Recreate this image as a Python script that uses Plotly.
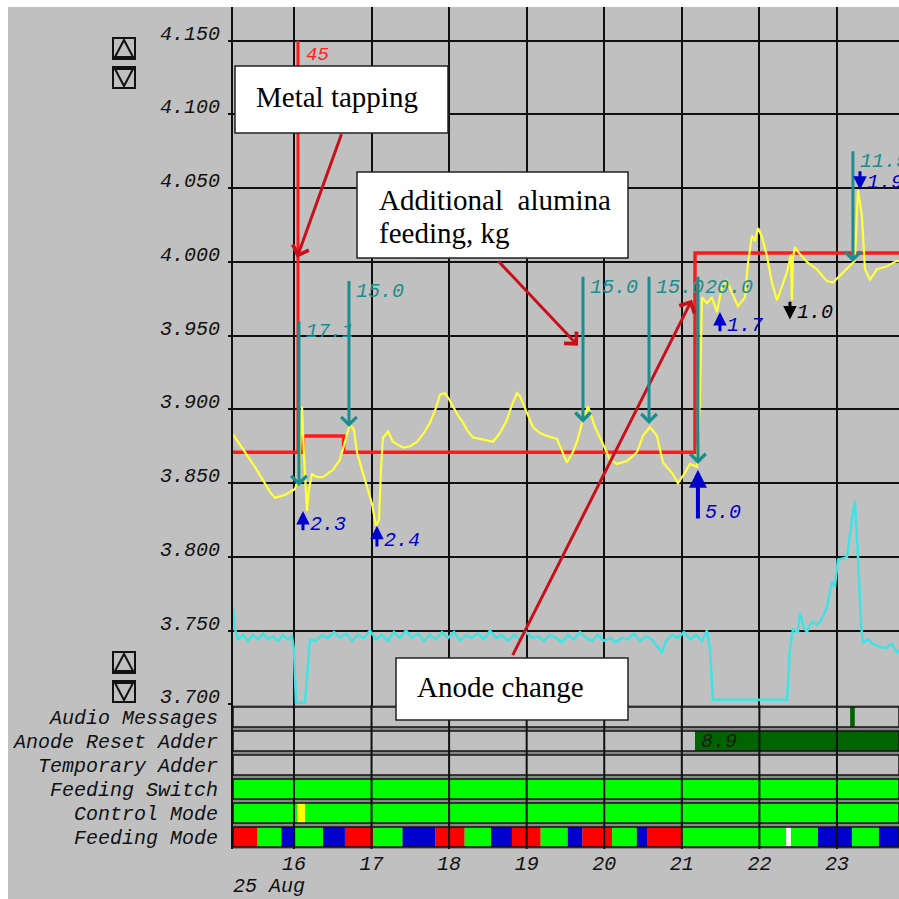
import plotly.graph_objects as go

# ---------------- data ----------------
# hours of 25 Aug
hour_ticks = [16, 17, 18, 19, 20, 21, 22, 23]
hour_range = [15.214, 23.80]
volt_range = [3.6995, 4.1729]

# cell voltage (yellow)
volt_time = [15.214, 15.368, 15.497, 15.600, 15.691, 15.755, 15.820, 15.884, 15.948, 16.013,
             16.064, 16.090, 16.103, 16.129, 16.155, 16.168, 16.193, 16.232, 16.297, 16.374,
             16.503, 16.593, 16.657, 16.722, 16.773, 16.812, 16.877, 16.941, 17.006, 17.057,
             17.096, 17.122, 17.147, 17.186, 17.212, 17.276, 17.405, 17.495, 17.586, 17.676,
             17.753, 17.831, 17.882, 17.947, 17.998, 18.050, 18.114, 18.179, 18.243, 18.308,
             18.462, 18.565, 18.656, 18.746, 18.810, 18.875, 18.913, 19.004, 19.081, 19.171,
             19.262, 19.390, 19.468, 19.519, 19.597, 19.661, 19.713, 19.790, 19.842, 19.880,
             19.971, 20.074, 20.164, 20.293, 20.422, 20.499, 20.589, 20.680, 20.757, 20.873,
             20.950, 21.041, 21.105, 21.195, 21.234, 21.260, 21.324, 21.389, 21.453, 21.518,
             21.582, 21.646, 21.724, 21.814, 21.853, 21.904, 21.943, 21.982, 22.033, 22.098,
             22.162, 22.227, 22.291, 22.356, 22.407, 22.420, 22.433, 22.459, 22.497, 22.613,
             22.742, 22.871, 22.949, 23.039, 23.168, 23.232, 23.271, 23.322, 23.361, 23.426,
             23.516, 23.645, 23.774, 23.799]
volt_value = [3.883, 3.871, 3.861, 3.852, 3.844, 3.840, 3.841, 3.842, 3.844, 3.846,
              3.854, 3.880, 3.902, 3.869, 3.839, 3.831, 3.846, 3.856, 3.854, 3.854,
              3.859, 3.866, 3.878, 3.890, 3.886, 3.871, 3.859, 3.848, 3.836, 3.821,
              3.825, 3.859, 3.881, 3.883, 3.885, 3.878, 3.874, 3.875, 3.878, 3.884,
              3.891, 3.901, 3.910, 3.911, 3.907, 3.902, 3.896, 3.891, 3.885, 3.881,
              3.879, 3.878, 3.884, 3.893, 3.903, 3.911, 3.909, 3.898, 3.888, 3.884,
              3.882, 3.880, 3.871, 3.864, 3.871, 3.880, 3.891, 3.902, 3.894, 3.888,
              3.878, 3.866, 3.863, 3.865, 3.871, 3.882, 3.888, 3.882, 3.864, 3.857,
              3.850, 3.857, 3.863, 3.861, 3.907, 3.976, 3.972, 3.976, 3.966, 3.983,
              3.987, 3.979, 3.970, 3.976, 3.999, 4.018, 4.014, 4.023, 4.017, 4.004,
              3.986, 3.974, 3.983, 3.993, 4.005, 3.974, 4.003, 4.010, 4.007, 4.000,
              3.995, 3.987, 3.986, 3.991, 3.998, 4.001, 4.049, 4.031, 3.995, 3.988,
              3.995, 3.997, 4.001, 4.000]

# noise signal (cyan)
noise_time = [15.214, 15.239, 15.278, 15.343, 15.407, 15.471, 15.536, 15.600, 15.665, 15.729,
              15.794, 15.858, 15.923, 15.974, 16.000, 16.026, 16.142, 16.180, 16.206, 16.284,
              16.361, 16.438, 16.516, 16.593, 16.670, 16.748, 16.825, 16.902, 16.980, 17.057,
              17.134, 17.212, 17.289, 17.367, 17.444, 17.521, 17.599, 17.676, 17.753, 17.831,
              17.908, 17.985, 18.063, 18.140, 18.217, 18.295, 18.372, 18.449, 18.527, 18.604,
              18.681, 18.759, 18.836, 18.913, 18.991, 19.068, 19.146, 19.223, 19.300, 19.378,
              19.455, 19.532, 19.610, 19.687, 19.764, 19.842, 19.919, 19.996, 20.074, 20.151,
              20.228, 20.306, 20.383, 20.460, 20.538, 20.615, 20.692, 20.744, 20.796, 20.873,
              20.950, 21.028, 21.105, 21.182, 21.260, 21.324, 21.363, 21.402, 22.356, 22.394,
              22.433, 22.497, 22.523, 22.574, 22.613, 22.652, 22.691, 22.742, 22.781, 22.833,
              22.871, 22.936, 22.974, 23.013, 23.090, 23.129, 23.193, 23.232, 23.271, 23.310,
              23.335, 23.400, 23.464, 23.555, 23.632, 23.709, 23.774, 23.799]
noise_value = [3.766, 3.751, 3.744, 3.747, 3.743, 3.747, 3.744, 3.748, 3.744, 3.746,
               3.743, 3.747, 3.744, 3.746, 3.737, 3.701, 3.701, 3.730, 3.744, 3.743,
               3.747, 3.745, 3.749, 3.745, 3.748, 3.743, 3.747, 3.745, 3.750, 3.744,
               3.747, 3.743, 3.749, 3.745, 3.750, 3.745, 3.748, 3.743, 3.747, 3.744,
               3.749, 3.745, 3.749, 3.743, 3.747, 3.745, 3.748, 3.744, 3.750, 3.745,
               3.747, 3.743, 3.747, 3.744, 3.749, 3.745, 3.746, 3.743, 3.747, 3.745,
               3.742, 3.747, 3.744, 3.749, 3.745, 3.743, 3.747, 3.743, 3.745, 3.742,
               3.745, 3.744, 3.748, 3.743, 3.746, 3.744, 3.739, 3.735, 3.743, 3.747,
               3.745, 3.749, 3.744, 3.747, 3.743, 3.750, 3.737, 3.703, 3.703, 3.737,
               3.751, 3.749, 3.762, 3.752, 3.749, 3.754, 3.756, 3.754, 3.756, 3.761,
               3.766, 3.783, 3.780, 3.798, 3.799, 3.800, 3.825, 3.838, 3.800, 3.754,
               3.742, 3.744, 3.741, 3.739, 3.738, 3.741, 3.735, 3.737]

# voltage set point (red step)
setpoint_time = [15.214, 16.116, 16.640, 21.170, 23.80]
setpoint_value = [3.871, 3.882, 3.871, 4.006, 4.006]

# metal tapping
tap_time = 16.052
tap_low, tap_high = 3.871, 4.150
tap_amount = 45

# additional alumina feeding, kg
feed_time = [16.064, 16.709, 19.726, 20.577, 21.208, 23.206]
feed_start = [3.961, 3.988, 3.991, 3.991, 3.991, 4.076]
feed_end = [3.848, 3.888, 3.891, 3.890, 3.863, 4.000]
feed_kg = [17.1, 15.0, 15.0, 15.0, 20.0, 11.5]

# voltage corrections
corr_time = [16.116, 17.070, 21.492, 21.208, 23.297, 22.394]
corr_start = [3.817, 3.806, 3.952, 3.825, 4.0625, 3.974]
corr_end = [3.831, 3.821, 3.966, 3.859, 4.049, 3.961]
corr_amount = [2.3, 2.4, 1.7, 5.0, 1.9, 1.0]
corr_kind = ["up", "up", "up", "up", "down", "manual"]

# status strips (top to bottom)
strip_rows = ["Audio Messages", "Anode Reset Adder", "Temporary Adder",
              "Feeding Switch", "Control Mode", "Feeding Mode"]
feeding_mode_start = [15.214, 15.530, 15.838, 16.020, 16.374, 16.657, 17.020, 17.400,
                      17.820, 18.200, 18.540, 18.810, 19.180, 19.530, 19.720, 20.100,
                      20.420, 20.560, 21.000, 22.343, 22.407, 22.755, 23.193, 23.541]
feeding_mode_state = ["R", "G", "B", "G", "B", "R", "G", "B",
                      "R", "G", "B", "R", "G", "B", "R", "G",
                      "B", "R", "G", "W", "G", "B", "G", "B"]
control_mode_start = [15.214, 16.039, 16.142]
control_mode_state = ["G", "Y", "G"]
feeding_switch_start = [15.214]
feeding_switch_state = ["G"]
anode_reset_start = [21.170]
anode_reset_state = ["D"]
anode_reset_value = 8.9
audio_start = [23.170]
audio_end = [23.230]
audio_state = ["D"]

# ---------------- styling ----------------
W, H = 899, 899
ML, MR, MT, MB = 233, 0, 7, 50
GRAY = "#c0c0c0"
GRID = "#101010"
TEAL = "#1a8e8e"
BLUE = "#0000cc"
DARKRED = "#c8101a"
STATE_COLOR = {"R": "#ff0000", "G": "#00ff00", "B": "#0000cc", "W": "#ffffff",
               "Y": "#ffff00", "D": "#006400"}
MONO = dict(family="Liberation Mono", size=20, style="italic", color="#111111")
SERIF = dict(family="Liberation Serif", size=29, color="#000000")


def fx(p):
    return (p - ML) / (W - ML - MR)


def fy(p):
    return (H - MB - p) / (H - MT - MB)


span = hour_range[1] - hour_range[0]
px_per_hour = (W - ML - MR) / span
strip_split = fy(705)
n_rows = len(strip_rows)
row_pos = {name: n_rows - 1 - i for i, name in enumerate(strip_rows)}

fig = go.Figure()

# ---- status strips ----
seg_row, seg_base, seg_len, seg_col = [], [], [], []


def add_segments(row, starts, states, ends=None):
    for i, s in enumerate(starts):
        if ends is not None:
            e = ends[i]
        elif i + 1 < len(starts):
            e = starts[i + 1]
        else:
            e = hour_range[1]
        seg_row.append(row_pos[row])
        seg_base.append(s)
        seg_len.append(e - s)
        seg_col.append(STATE_COLOR[states[i]])


add_segments("Feeding Mode", feeding_mode_start, feeding_mode_state)
add_segments("Control Mode", control_mode_start, control_mode_state)
add_segments("Feeding Switch", feeding_switch_start, feeding_switch_state)
add_segments("Anode Reset Adder", anode_reset_start, anode_reset_state)
add_segments("Audio Messages", audio_start, audio_state, audio_end)

rows_y = [row_pos[r] for r in strip_rows]
strip_common = dict(orientation="h", xaxis="x", yaxis="y2", hoverinfo="skip", showlegend=False)
# darker band between the rows
fig.add_trace(go.Bar(y=rows_y, x=[span] * n_rows, base=[hour_range[0]] * n_rows, width=1.0,
                     marker=dict(color="#888888", line_width=0), **strip_common))
# row backgrounds
fig.add_trace(go.Bar(y=rows_y, x=[span] * n_rows, base=[hour_range[0]] * n_rows, width=0.84,
                     marker=dict(color=GRAY, line_width=0), **strip_common))
# state segments
fig.add_trace(go.Bar(y=seg_row, x=seg_len, base=seg_base, width=0.84,
                     marker=dict(color=seg_col, line_width=0), **strip_common))
# row frames
fig.add_trace(go.Bar(y=rows_y, x=[span] * n_rows, base=[hour_range[0]] * n_rows, width=0.84,
                     marker=dict(color="rgba(0,0,0,0)", line=dict(color=GRID, width=1.5)),
                     **strip_common))
# hour grid running through the strips, as 2 px slivers over every row
grid_w = 2.0 / px_per_hour
gy, gb = [], []
for r in rows_y:
    for t in hour_ticks:
        gy.append(r)
        gb.append(t - grid_w / 2)
fig.add_trace(go.Bar(y=gy, x=[grid_w] * len(gy), base=gb, width=1.0,
                     marker=dict(color=GRID, line_width=0), **strip_common))

# ---- main signals ----
fig.add_trace(go.Scatter(x=noise_time, y=noise_value, mode="lines",
                         line=dict(color="#3fe3e3", width=2.5), showlegend=False))
fig.add_trace(go.Scatter(x=setpoint_time, y=setpoint_value, mode="lines",
                         line=dict(color="#ff1a1a", width=3.5, shape="hv"), showlegend=False))
fig.add_trace(go.Scatter(x=[tap_time, tap_time], y=[tap_low, tap_high], mode="lines",
                         line=dict(color="#ff1a1a", width=3), showlegend=False))
fig.add_trace(go.Scatter(x=volt_time, y=volt_value, mode="lines",
                         line=dict(color="#ffff3a", width=2.2), showlegend=False))

annotations = []
shapes = []

# outer page frame (white border top/left)
shapes.append(dict(type="rect", xref="paper", yref="paper", x0=fx(8), x1=fx(W),
                   y0=fy(H), y1=1.0, fillcolor=GRAY, line_width=0, layer="below"))

# scroll buttons
for top in (38, 652):
    for k, up in ((0, True), (1, False)):
        y0 = top + k * 29
        y1 = y0 + 21
        shapes.append(dict(type="rect", xref="paper", yref="paper", x0=fx(113), x1=fx(135),
                           y0=fy(y1), y1=fy(y0), line=dict(color="#111", width=2),
                           fillcolor="rgba(0,0,0,0)"))
        if up:
            path = f"M{fx(115)},{fy(y1-2)} L{fx(124)},{fy(y0+2)} L{fx(133)},{fy(y1-2)} Z"
        else:
            path = f"M{fx(115)},{fy(y0+2)} L{fx(133)},{fy(y0+2)} L{fx(124)},{fy(y1-2)} Z"
        shapes.append(dict(type="path", xref="paper", yref="paper", path=path,
                           line=dict(color="#111", width=2)))

# callout boxes
for (x0, x1, y0, y1) in ((235, 448, 66, 133), (357, 628, 172, 258), (396, 628, 658, 720)):
    shapes.append(dict(type="rect", xref="paper", yref="paper", x0=fx(x0), x1=fx(x1),
                       y0=fy(y1), y1=fy(y0), fillcolor="#ffffff",
                       line=dict(color="#222", width=1.5), layer="above"))

annotations += [
    dict(xref="paper", yref="paper", x=fx(254), y=fy(97), text="Metal tapping",
         showarrow=False, xanchor="left", yanchor="middle", font=SERIF),
    dict(xref="paper", yref="paper", x=fx(377), y=fy(200), text="Additional&nbsp;&nbsp;alumina",
         showarrow=False, xanchor="left", yanchor="middle", font=SERIF),
    dict(xref="paper", yref="paper", x=fx(377), y=fy(233), text="feeding, kg",
         showarrow=False, xanchor="left", yanchor="middle", font=SERIF),
    dict(xref="paper", yref="paper", x=fx(415), y=fy(687), text="Anode change",
         showarrow=False, xanchor="left", yanchor="middle", font=SERIF),
]

# callout arrows
for tx, ty, ax, ay in ((16.039, 4.0028, 45, -125), (19.661, 3.9432, -81, -86),
                       (21.131, 3.9744, -180, 357)):
    annotations.append(dict(x=tx, y=ty, xref="x", yref="y", ax=ax, ay=ay, text="",
                            showarrow=True, arrowhead=4, arrowsize=1.1, arrowwidth=3,
                            arrowcolor=DARKRED))

# metal tapping label
annotations.append(dict(x=tap_time, y=tap_high, xref="x", yref="y", text=str(tap_amount),
                        showarrow=False, xanchor="left", yanchor="middle", xshift=6, yshift=-14,
                        font=dict(MONO, color="#ff2020", size=19)))

# feeding arrows
for t, s, e, kg in zip(feed_time, feed_start, feed_end, feed_kg):
    annotations.append(dict(x=t, y=e, ax=t, ay=s, xref="x", yref="y", axref="x", ayref="y",
                            text="", showarrow=True, arrowhead=4, arrowsize=1, arrowwidth=3,
                            arrowcolor=TEAL))
    annotations.append(dict(x=t, y=s, xref="x", yref="y", text=f"{kg:.1f}", showarrow=False,
                            xanchor="left", yanchor="middle", xshift=5, yshift=-12,
                            font=dict(MONO, color=TEAL)))

# correction arrows
for t, s, e, v, kind in zip(corr_time, corr_start, corr_end, corr_amount, corr_kind):
    col = "#000000" if kind == "manual" else BLUE
    w = 4 if v >= 5 else 3
    annotations.append(dict(x=t, y=e, ax=t, ay=s, xref="x", yref="y", axref="x", ayref="y",
                            text="", showarrow=True, arrowhead=2, arrowsize=0.9, arrowwidth=w,
                            arrowcolor=col))
    ly = s if kind == "up" else e
    annotations.append(dict(x=t, y=ly, xref="x", yref="y", text=f"{v:.1f}", showarrow=False,
                            xanchor="left", yanchor="middle", xshift=5, yshift=7,
                            font=dict(MONO, color=col)))

# anode reset adder value
annotations.append(dict(x=anode_reset_start[0], y=row_pos["Anode Reset Adder"], xref="x",
                        yref="y2", text=f"{anode_reset_value:.1f}", showarrow=False,
                        xanchor="left", yanchor="middle", xshift=4,
                        font=dict(MONO, color="#1a1a1a")))

# date under first hour tick
annotations.append(dict(x=hour_ticks[0], y=fy(886), xref="x", yref="paper", text="25 Aug",
                        showarrow=False, xanchor="right", yanchor="middle", xshift=13,
                        font=MONO))

fig.update_layout(
    width=W, height=H,
    margin=dict(l=ML, r=MR, t=MT, b=MB, pad=0),
    paper_bgcolor="#ffffff",
    plot_bgcolor=GRAY,
    barmode="overlay",
    showlegend=False,
    xaxis=dict(range=hour_range, tickvals=hour_ticks, ticktext=[str(h) for h in hour_ticks],
               showgrid=True, gridcolor=GRID, gridwidth=2, zeroline=False,
               ticks="", tickfont=MONO, anchor="y2", showline=False),
    yaxis=dict(domain=[strip_split, 1], range=volt_range, tick0=3.7, dtick=0.05,
               tickformat=".3f", showgrid=True, gridcolor=GRID, gridwidth=2,
               zeroline=False, ticks="outside", ticklen=3, tickwidth=2, tickcolor=GRID,
               tickfont=MONO, showline=True, linecolor=GRID, linewidth=2,
               ticklabelstandoff=4, ticklabelshift=-8, anchor="x"),
    yaxis2=dict(domain=[0, strip_split], range=[-0.5, n_rows - 0.5],
                tickvals=rows_y, ticktext=strip_rows,
                showgrid=False, zeroline=False, ticks="", tickfont=MONO,
                showline=True, linecolor=GRID, linewidth=2,
                ticklabelstandoff=9, anchor="x"),
    shapes=shapes,
    annotations=annotations,
)

fig.write_html("out.html")
